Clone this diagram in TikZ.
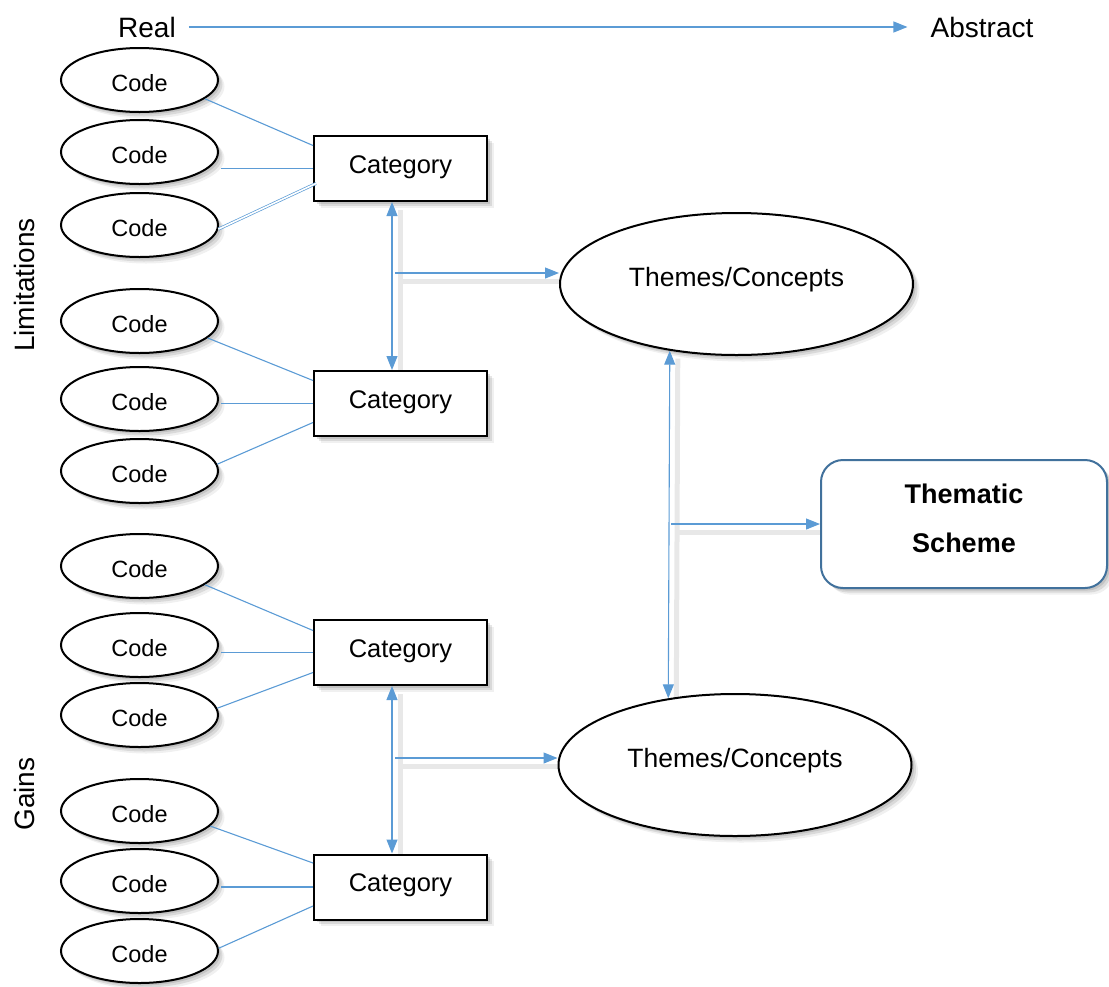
\documentclass[tikz,border=0pt]{standalone}
\usepackage{fontspec}
\setmainfont{Liberation Sans}
\usetikzlibrary{shapes.geometric,shadows,arrows.meta,calc,backgrounds}
\definecolor{lineblue}{HTML}{5B9BD5}
\definecolor{boxblue}{HTML}{41719C}
\tikzset{
  shad/.style={drop shadow={opacity=0.25,shadow xshift=2.5pt,shadow yshift=-2.5pt},
               drop shadow={opacity=0.2,shadow xshift=4.5pt,shadow yshift=-4.5pt},
               drop shadow={opacity=0.12,shadow xshift=6.5pt,shadow yshift=-6.5pt}},
  code/.style={ellipse,draw=black,line width=2pt,fill=white,minimum width=157pt,minimum height=64pt,inner sep=0pt,shad,text height=23pt,text depth=0.3pt,font=\fontsize{23.5}{28}\selectfont},
  cat/.style={rectangle,draw=black,line width=2pt,fill=white,minimum width=173pt,minimum height=65pt,inner sep=0pt,shad,text height=18.6pt,text depth=9.5pt,font=\fontsize{25.5}{30}\selectfont},
  theme/.style={ellipse,draw=black,line width=2pt,fill=white,minimum width=353pt,minimum height=142pt,inner sep=0pt,shad,text height=19.3pt,text depth=13.6pt,font=\fontsize{26.5}{31}\selectfont},
  scheme/.style={rectangle,rounded corners=22pt,draw=boxblue,line width=2pt,fill=white,minimum width=286pt,minimum height=128pt,inner sep=0pt,shad,align=center,text depth=12pt,font=\fontsize{27}{49}\selectfont\bfseries},
  link/.style={draw=lineblue,line width=1.1pt},
  lshad/.style={draw=black!9,line width=5pt,transform canvas={xshift=8pt,yshift=-8pt}},
  arr/.style={link,-{Triangle[length=14pt,width=11pt]}},
  darr/.style={link,{Triangle[length=14pt,width=11pt]}-{Triangle[length=14pt,width=11pt]}},
  side/.style={rotate=90,font=\fontsize{28}{32}\selectfont},
  ends/.style={font=\fontsize{28}{32}\selectfont,inner sep=0pt}
}
\begin{document}
\begin{tikzpicture}[x=1pt,y=-1pt]
\useasboundingbox (0,0) rectangle (1109,986);
% top axis
\node[ends] (real) at (147,27) {Real};
\node[ends] (abstract) at (982,27) {Abstract};
\draw[link,-{Triangle[length=14pt,width=11pt]},shorten <=13pt,shorten >=23pt] (real.east) -- (abstract.west);
% side labels
\node[side] (lim) at (24,285) {Limitations};
\node[side] (gain) at (24,794) {Gains};
\coordinate (j1) at (395,273);
\coordinate (j2) at (395,758);
\coordinate (j3) at (671,524);
% code ellipses
\node[code] (c1) at (139.5,80) {Code};
\node[code] (c2) at (139.5,152) {Code};
\node[code] (c3) at (139.5,225) {Code};
\node[code] (c4) at (139.5,321) {Code};
\node[code] (c5) at (139.5,399) {Code};
\node[code] (c6) at (139.5,471) {Code};
\node[code] (c7) at (139.5,566) {Code};
\node[code] (c8) at (139.5,645) {Code};
\node[code] (c9) at (139.5,715) {Code};
\node[code] (c10) at (139.5,811) {Code};
\node[code] (c11) at (139.5,881) {Code};
\node[code] (c12) at (139.5,951) {Code};
% categories
\node[cat] (k1) at (400.5,168.5) {Category};
\node[cat] (k2) at (400.5,403.5) {Category};
\node[cat] (k3) at (400.5,652.5) {Category};
\node[cat] (k4) at (400.5,887) {Category};
% themes
\node[theme] (t1) at (736.5,284) {Themes/Concepts};
\node[theme] (t2) at (735,765) {Themes/Concepts};
% scheme
\node[scheme] (s) at (964,524) {Thematic\\Scheme};
% soft shadows of the arrows, behind everything
\begin{pgfonlayer}{background}
\draw[lshad] ([xshift=-8.5pt]k1.south) -- ([xshift=-8.5pt]k2.north);
\draw[lshad] (j1) -- (j1 -| t1.west);
\draw[lshad] ([xshift=-8.5pt]k3.south) -- ([xshift=-8.5pt]k4.north);
\draw[lshad] (j2) -- (j2 -| t2.west);
\draw[lshad] (t1.-135.6) -- (t2.135);
\draw[lshad] (j3) -- (s.west);
\end{pgfonlayer}
% code-category links
\draw[link] (c1.-16) -- ([yshift=23pt]k1.west);
\draw[link] ([xshift=2pt]c2.east |- k1.west) -- (k1.west);
\draw[draw=lineblue,line width=0.7pt,double=white,double distance=1.6pt] (c3.-3) -- ([xshift=3pt,yshift=-15pt]k1.west);
\draw[link] (c4.-14) -- ([yshift=23pt]k2.west);
\draw[link] ([xshift=2pt]c5.east |- k2.west) -- (k2.west);
\draw[link] (c6.5) -- ([yshift=-19pt]k2.west);
\draw[link] (c7.-16) -- ([yshift=22pt]k3.west);
\draw[link] ([xshift=2pt]c8.east |- k3.west) -- (k3.west);
\draw[link] (c9.5) -- ([yshift=-20pt]k3.west);
\draw[link] (c10.-12) -- ([yshift=24pt]k4.west);
\draw[link] ([xshift=2pt]c11.east |- k4.west) -- (k4.west);
\draw[link] (c12.2) -- ([yshift=-19pt]k4.west);
% category to category and to themes
\draw[darr] ([xshift=-8.5pt]k1.south) -- ([xshift=-8.5pt]k2.north);
\draw[arr] (j1) -- (j1 -| t1.west);
\draw[darr] ([xshift=-8.5pt]k3.south) -- ([xshift=-8.5pt]k4.north);
\draw[arr] (j2) -- (j2 -| t2.west);
% themes to themes and to scheme
\draw[darr] (t1.-135.6) -- (t2.135);
\draw[arr] (j3) -- (s.west);
\end{tikzpicture}
\end{document}
